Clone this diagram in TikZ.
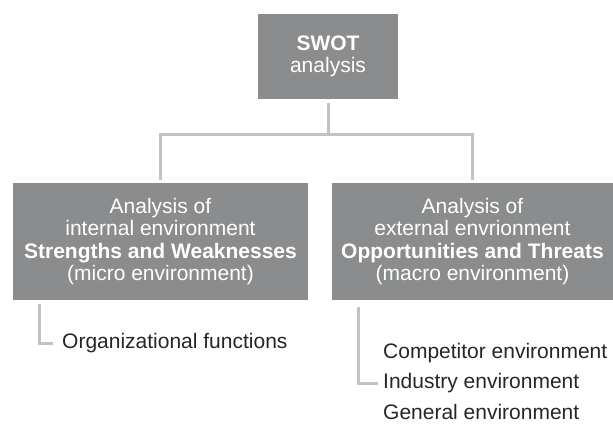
\documentclass[tikz,border=0pt]{standalone}
\usepackage{fontspec}
\setmainfont{Liberation Sans}
\usepackage{tikz}
\definecolor{boxgray}{HTML}{8B8C8E}
\definecolor{linegray}{HTML}{C2C2C2}
\definecolor{textdark}{HTML}{262626}

\begin{document}
\begin{tikzpicture}[x=1pt,y=-1pt,
            box/.style={fill=boxgray,text=white,align=center,inner sep=0pt,
                font=\fontsize{21}{22.5}\selectfont},
            link/.style={draw=linegray,line width=3pt},
            item/.style={anchor=west,inner sep=0pt,text=textdark,
                font=\fontsize{21}{25}\selectfont}]
            \useasboundingbox (0,0) rectangle (613,425);
            \node[box,minimum width=140pt,minimum height=85pt] (swot) at (328,56.5)
                {\textbf{SWOT}\\analysis};
            \node[box,minimum width=295pt,minimum height=117pt] (internal) at (160.5,241.5)
                {Analysis of\\internal environment\\\textbf{Strengths and Weaknesses}\\(micro environment)};
            \node[box,minimum width=281pt,minimum height=117pt] (external) at (472.5,241.5)
                {Analysis of\\external envrionment\\\textbf{Opportunities and Threats}\\(macro environment)};
            \node[item] (orgfun) at (62,343) {Organizational functions};
            \node[item] (competitor) at (383,353) {Competitor environment};
            \node[item] (industry) at (383,383) {Industry environment};
            \node[item] (general) at (383,412) {General environment};
            % tree from the top box
            \coordinate (fork) at (328,135);
            \draw[link] ([yshift=-4pt]swot.south) -- (fork);
            \draw[link] ([yshift=3pt]internal.north) |- (fork) -| ([yshift=3pt]external.north);
            % brackets under the two boxes
            \draw[link] ([xshift=27pt,yshift=-4pt]internal.south west) |- ([xshift=-9pt]orgfun.west);
            \draw[link] ([xshift=27pt,yshift=-7pt]external.south west) |- ([xshift=-5pt]industry.west);
        \end{tikzpicture}
\end{document}
